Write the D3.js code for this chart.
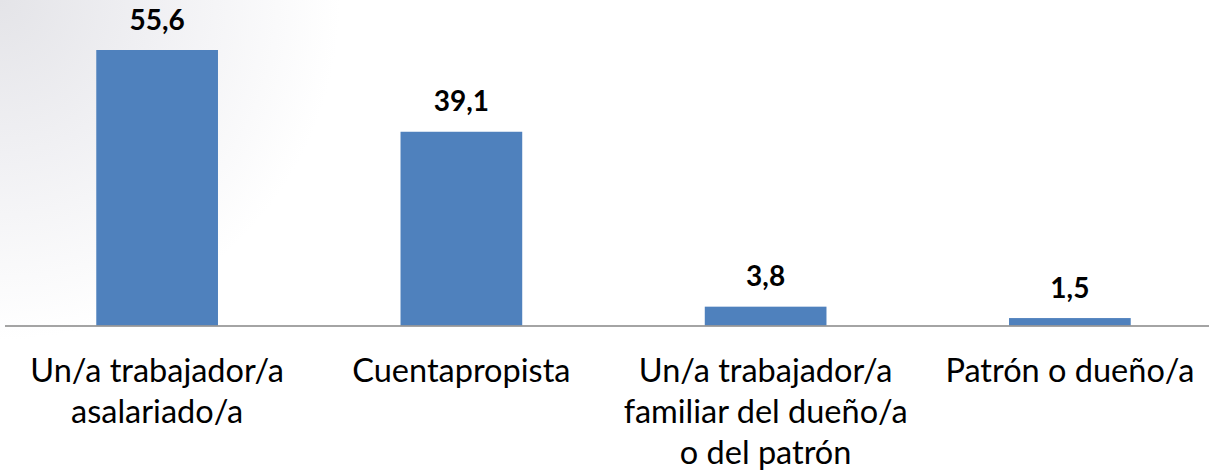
<!DOCTYPE html>
<html>
<head>
<meta charset="utf-8">
<script src="https://cdn.jsdelivr.net/npm/d3@7"></script>
<style>
  html, body { margin: 0; padding: 0; background: #fff; }
  svg { display: block; }
</style>
</head>
<body>
<svg id="chart" width="1209" height="473"></svg>
<script>
// Categories (each entry is a list of label lines) and their percentages
const categories = [
  ["Un/a trabajador/a", "asalariado/a"],
  ["Cuentapropista"],
  ["Un/a trabajador/a", "familiar del dueño/a", "o del patrón"],
  ["Patrón o dueño/a"]
];
const values = [55.6, 39.1, 3.8, 1.5];
const valueLabels = ["55,6", "39,1", "3,8", "1,5"];

const W = 1209, H = 473;
const svg = d3.select("#chart");

// soft grey shading in the top-left corner of the slide
const defs = svg.append("defs");
const grad = defs.append("radialGradient")
  .attr("id", "corner")
  .attr("gradientUnits", "userSpaceOnUse")
  .attr("cx", 0).attr("cy", 0).attr("r", 340);
grad.append("stop").attr("offset", "0%").attr("stop-color", "#e4e4e8");
grad.append("stop").attr("offset", "45%").attr("stop-color", "#f0f0f3");
grad.append("stop").attr("offset", "100%").attr("stop-color", "#ffffff");
svg.append("rect").attr("width", W).attr("height", H).attr("fill", "url(#corner)");

const baseline = 325.5;
const idx = d3.range(categories.length);

const x = d3.scaleBand()
  .domain(idx)
  .range([5, 1222])
  .paddingInner(0.6)
  .paddingOuter(0.3);

const y = d3.scaleLinear()
  .domain([0, 55.6])
  .range([baseline, 50]);

// bars
svg.append("g").selectAll("rect")
  .data(values)
  .join("rect")
  .attr("x", (d, i) => x(i))
  .attr("y", d => y(d))
  .attr("width", x.bandwidth())
  .attr("height", d => baseline - y(d))
  .attr("fill", "#4f81bd");

// category axis line
svg.append("line")
  .attr("x1", 5).attr("x2", W)
  .attr("y1", baseline + 0.5).attr("y2", baseline + 0.5)
  .attr("stroke", "#868686")
  .attr("stroke-width", 1.5);

// value labels above bars
svg.append("g").selectAll("text")
  .data(values)
  .join("text")
  .attr("x", (d, i) => x(i) + x.bandwidth() / 2)
  .attr("y", d => y(d) - 20.5)
  .attr("text-anchor", "middle")
  .attr("font-family", "Lato, 'Open Sans', sans-serif")
  .attr("font-weight", "bold")
  .attr("font-size", 28)
  .attr("fill", "#000")
  .text((d, i) => valueLabels[i]);

// category labels, wrapped over several lines
const cat = svg.append("g").selectAll("text")
  .data(categories)
  .join("text")
  .attr("text-anchor", "middle")
  .attr("font-family", "Lato, 'Open Sans', sans-serif")
  .attr("font-size", 32.5)
  .attr("fill", "#000");
cat.each(function(lines, i) {
  const t = d3.select(this);
  lines.forEach((ln, k) => {
    t.append("tspan")
      .attr("x", x(i) + x.bandwidth() / 2)
      .attr("y", 382 + k * 40.8)
      .text(ln);
  });
});
</script>
</body>
</html>
